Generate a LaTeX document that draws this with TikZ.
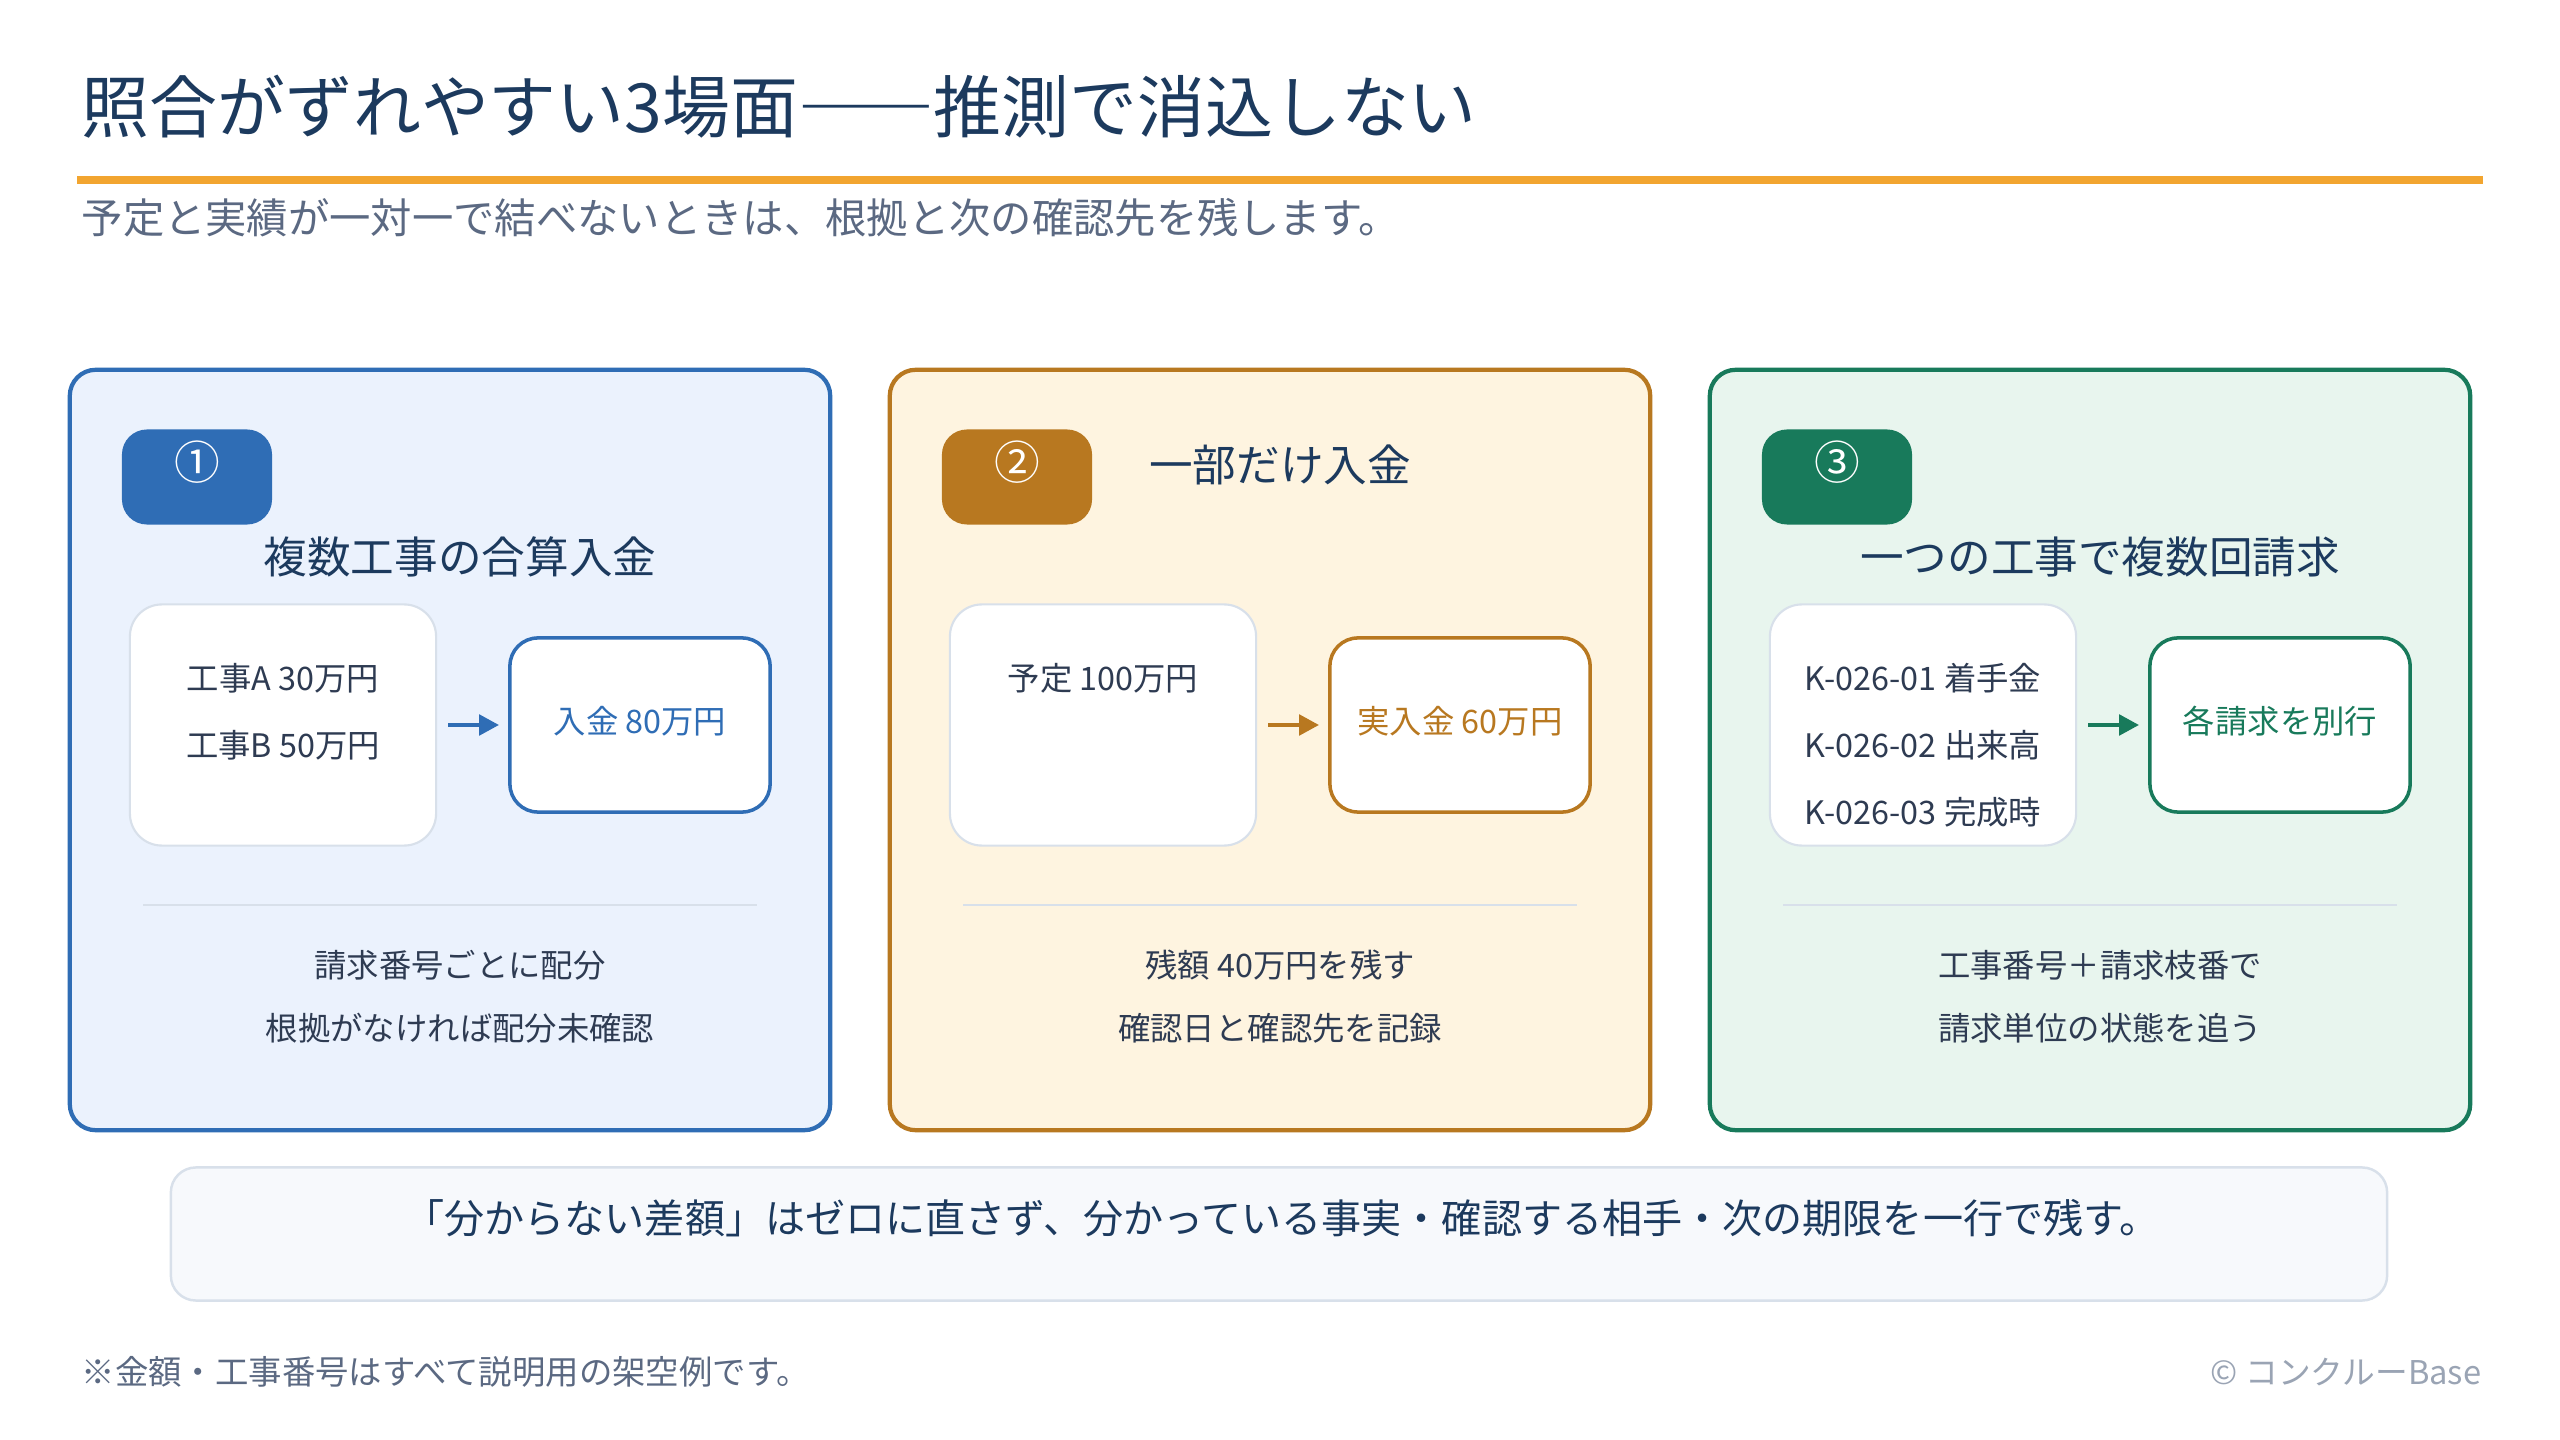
\documentclass[tikz,border=0pt]{standalone}
\usepackage{fontspec}
\setmainfont{Noto Sans CJK JP}
\usetikzlibrary{arrows.meta}
\definecolor{navy}{HTML}{1C3A5E}
\definecolor{ink}{HTML}{2E3B52}
\definecolor{slate}{HTML}{5B6982}
\definecolor{mist}{HTML}{9AA4B4}
\definecolor{rulegray}{HTML}{D8E0EA}
\definecolor{notebg}{HTML}{F7F9FC}
\definecolor{orangeline}{HTML}{F2A530}
\definecolor{accA}{HTML}{2F6DB5}
\definecolor{bgA}{HTML}{EBF2FD}
\definecolor{accB}{HTML}{B87820}
\definecolor{bgB}{HTML}{FEF4E0}
\definecolor{accC}{HTML}{187A5B}
\definecolor{bgC}{HTML}{E8F5EE}
\begin{document}
\begin{tikzpicture}[x=0.01cm, y=-0.01cm,
    every node/.style={inner sep=0pt},
    title/.style={anchor=west, text=navy, font=\fontsize{19.3}{23}\selectfont},
    lead/.style={anchor=west, text=slate, font=\fontsize{11.75}{14}\selectfont},
    head/.style={text=navy, font=\fontsize{12.4}{15}\selectfont},
    body/.style={text=ink, font=\fontsize{9.2}{11}\selectfont},
    panel/.style={line width=1.2pt, rounded corners=0.26cm, minimum width=7.6cm, minimum height=7.6cm},
    badge/.style={rounded corners=0.25cm, minimum width=1.5cm, minimum height=0.95cm},
    digit/.style={text=white, font=\fontsize{13}{15}\selectfont},
    srcbox/.style={draw=rulegray, fill=white, line width=0.6pt, rounded corners=0.32cm, minimum width=3.06cm, minimum height=2.41cm},
    dstbox/.style={fill=white, line width=1pt, rounded corners=0.28cm, minimum width=2.6cm, minimum height=1.74cm},
    arrow/.style={line width=1.4pt, -{Triangle[length=0.2cm,width=0.2cm]}, shorten <=0.11cm, shorten >=0.09cm},
    rule/.style={draw=rulegray, line width=0.7pt}]
\useasboundingbox (0,0) rectangle (2560,1440);
\fill[white] (0,0) rectangle (2560,1440);
\node[title] (title) at (81,107) {照合がずれやすい3場面――推測で消込しない};
\draw[orangeline, line width=2pt] (77,180) -- (2483,180);
\node[lead] (lead) at (81,218) {予定と実績が一対一で結べないときは、根拠と次の確認先を残します。};
\foreach \i/\x/\c/\n/\head/\hy/\out/\ta/\tb in {
    1/450/A/①/複数工事の合算入金/557/入金 80万円/請求番号ごとに配分/根拠がなければ配分未確認,
    2/1270/B/②/一部だけ入金/465/実入金 60万円/残額 40万円を残す/確認日と確認先を記録,
    3/2090/C/③/一つの工事で複数回請求/557/各請求を別行/工事番号＋請求枝番で/請求単位の状態を追う} {
    \node[panel, draw=acc\c, fill=bg\c] (panel\i) at (\x,750) {};
    \node[badge, fill=acc\c] (badge\i) at ({\x-253},477) {};
    \node[digit] (num\i) at ({\x-253},462) {\n};
    \node[head] (head\i) at ({\x+10},\hy) {\head};
    \node[srcbox] (src\i) at ({\x-167},725) {};
    \node[dstbox, draw=acc\c] (dst\i) at ({\x+190},725) {};
    \node[body, text=acc\c] (out\i) at ({\x+190},721) {\out};
    \draw[arrow, color=acc\c] (src\i) -- (dst\i);
    \draw[rule] ({\x-307},905) -- ({\x+307},905);
    \node[body] (ta\i) at ({\x+10},965) {\ta};
    \node[body] (tb\i) at ({\x+10},1028) {\tb};
}
\foreach \i/\j/\txt in {1/1/工事A 30万円, 1/2/工事B 50万円, 2/1/予定 100万円,
    3/1/K-026-01 着手金, 3/2/K-026-02 出来高, 3/3/K-026-03 完成時}
    \node[body] (line\i\j) at ({820*\i-537},{678+67*(\j-1)}) {\txt};
\node[draw=rulegray, fill=notebg, line width=0.7pt, rounded corners=0.25cm, minimum width=22.15cm, minimum height=1.33cm] (note) at (1279,1234) {};
\node[text=navy, font=\fontsize{11.4}{13}\selectfont] (notetext) at (1282,1218) {「分からない差額」はゼロに直さず、分かっている事実・確認する相手・次の期限を一行で残す。};
\node[anchor=west, text=slate, font=\fontsize{9.5}{11}\selectfont] (footnote) at (81,1372) {※金額・工事番号はすべて説明用の架空例です。};
\node[anchor=east, text=mist, font=\fontsize{9.3}{11}\selectfont] (credit) at (2482,1372) {© コンクルーBase};
\end{tikzpicture}
\end{document}
